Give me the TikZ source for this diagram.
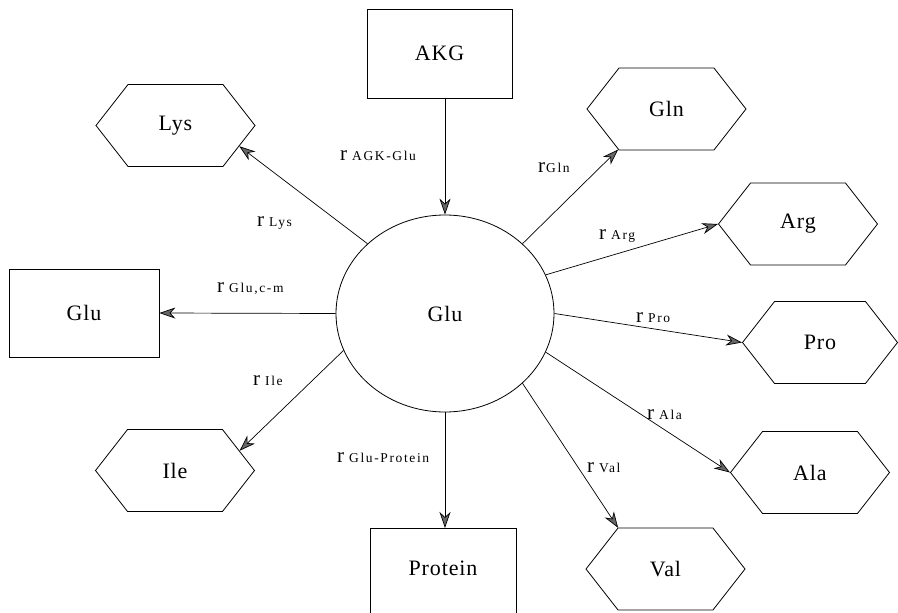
\documentclass[tikz,border=0pt]{standalone}
\usepackage{fontspec}
\setmainfont{Liberation Serif}
\newfontfamily\namefont[LetterSpace=4]{Liberation Serif}
\newfontfamily\subfont[LetterSpace=12]{Liberation Serif}
\usetikzlibrary{shapes.symbols,shapes.geometric,arrows.meta}

% rate label: a large "r" followed by the reaction name in small type
\newcommand\ratelabel[2][5pt]{{\fontsize{21}{21}\selectfont r}\hspace{#1}{\subfont\fontsize{13.5}{14}\selectfont #2}}

\tikzset{
  pool/.style={draw, line width=0.8pt, inner sep=0pt,
    font={\namefont\fontsize{22}{26}\selectfont}},
  boxpool/.style={pool, rectangle},
  hexpool/.style={pool, signal, signal to=east and west,
    signal pointer angle=104, minimum width=159pt, minimum height=82pt},
  flux/.style={draw, line width=0.7pt,
    -{Stealth[length=16pt,width=11pt,inset=5pt,fill=black!60]}},
  rate/.style={anchor=base west, inner sep=0pt},
}

\begin{document}
\begin{tikzpicture}[x=1pt,y=-1pt]
\useasboundingbox (0,0) rectangle (898,613);
\clip (0,0) rectangle (898,613);

% metabolite pools
\node[boxpool, minimum width=145pt, minimum height=89pt] (akg) at (439.5,53.5) {AKG};
\node[hexpool] (lys) at (175.5,125.5) {Lys};
\node[hexpool] (gln) at (666.5,109) {Gln};
\node[hexpool] (arg) at (798,224) {Arg};
\node[boxpool, minimum width=150pt, minimum height=88pt] (glum) at (84,313) {Glu};
\node[pool, ellipse, minimum width=218pt, minimum height=197pt] (glu) at (445,313.5) {Glu};
\node[hexpool, minimum width=155pt] (pro) at (820,342.5) {Pro};
\node[hexpool] (ile) at (175,470.5) {Ile};
\node[hexpool] (ala) at (810,472.5) {Ala};
\node[hexpool] (val) at (665.5,569) {Val};
\node[boxpool, minimum width=146pt, minimum height=100pt, anchor=north] (protein) at (443,528) {};
\node[font={\namefont\fontsize{22}{26}\selectfont}] (proteinname) at (443,568) {Protein};

% fluxes out of the central glutamate pool
\draw[flux] (akg.south -| glu.north) -- (glu.north);
\draw[flux] (glu.138.3) -- (lys.-18.4);
\draw[flux] (glu.42.5) -- (gln.220.8);
\draw[flux] (glu.21.4) -- (arg.west);
\draw[flux] (glu.west) -- (glum.east);
\draw[flux] (glu.200.9) -- (ile.17.5);
\draw[flux] (glu.south) -- (glu.south |- protein.north);
\draw[flux] (glu.east) -- (pro.west);
\draw[flux] (glu.-21.4) -- (ala.west);
\draw[flux] (glu.-42) -- (val.139.2);

% rate labels
\node[rate] (rakg) at (340,160) {\ratelabel{AGK-Glu}};
\node[rate] (rlys) at (257,226) {\ratelabel{Lys}};
\node[rate] (rglucm) at (217,292) {\ratelabel{Glu,c-m}};
\node[rate] (rgln) at (538,172) {\ratelabel[1pt]{Gln}};
\node[rate] (rarg) at (599,239) {\ratelabel{Arg}};
\node[rate] (rile) at (253,385) {\ratelabel{Ile}};
\node[rate] (rprot) at (337,462) {\ratelabel{Glu-Protein}};
\node[rate] (rpro) at (636,322) {\ratelabel{Pro}};
\node[rate] (rala) at (647,419) {\ratelabel{Ala}};
\node[rate] (rval) at (587,472) {\ratelabel{Val}};
\end{tikzpicture}
\end{document}
